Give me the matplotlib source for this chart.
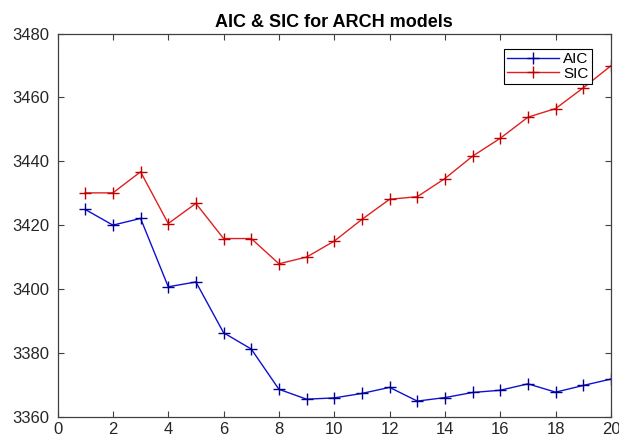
import numpy as np
import matplotlib.pyplot as plt

# Information criteria for ARCH(p), p = 1..20
lags = list(range(1, 21))
aic = [3424.9, 3420.0, 3422.1, 3400.7, 3402.2, 3386.3, 3381.2, 3368.6, 3365.5, 3365.9,
       3367.3, 3369.2, 3364.9, 3366.0, 3367.6, 3368.3, 3370.3, 3367.7, 3369.8, 3371.8]
sic = [3430.1, 3430.1, 3436.7, 3420.5, 3426.8, 3415.8, 3415.8, 3407.9, 3410.0, 3415.0,
       3421.8, 3428.1, 3428.9, 3434.6, 3441.6, 3447.2, 3453.8, 3456.5, 3463.0, 3469.9]

xticks = list(range(0, 21, 2))
yticks = list(range(3360, 3481, 20))

plt.rcParams['font.family'] = ['Liberation Sans', 'DejaVu Sans']

fig = plt.figure(figsize=(6.19, 4.41), dpi=100)
ax = fig.add_axes([0.093, 0.055, 0.894, 0.869])

ax.plot(lags, aic, '-+', color='#1010d0', markeredgecolor='#000090', lw=1.0, ms=9, mew=1.0, label='AIC')
ax.plot(lags, sic, '-+', color='#e02020', markeredgecolor='#c00000', lw=1.0, ms=9, mew=1.0, label='SIC')

ax.set_xlim(0, 20)
ax.set_ylim(3360, 3480)
ax.set_xticks(xticks)
ax.set_yticks(yticks)
ax.tick_params(direction='in', top=True, right=True, length=4, width=0.8,
               colors='#404040', labelsize=12, labelcolor='#262626')
ax.tick_params(axis='x', pad=4)
ax.tick_params(axis='y', pad=6)
for s in ax.spines.values():
    s.set_color('#404040')
    s.set_linewidth(0.9)

ax.set_title('AIC & SIC for ARCH models', fontsize=13, fontweight='bold', pad=5)

leg = ax.legend(loc='upper right', bbox_to_anchor=(0.965, 0.96), fontsize=11, handlelength=3.4,
                fancybox=False, framealpha=1, edgecolor='black', borderpad=0.2,
                labelspacing=0.05, handletextpad=0.3, borderaxespad=0)
leg.get_frame().set_linewidth(0.8)

fig.savefig('out.png', dpi=100)
